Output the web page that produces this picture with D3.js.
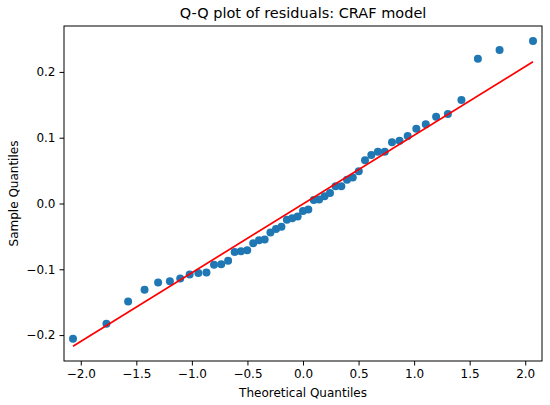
<!DOCTYPE html>
<html>
<head>
<meta charset="utf-8">
<title>Q-Q plot of residuals: CRAF model</title>
<script src="https://d3js.org/d3.v7.min.js"></script>
<style>
  body { margin: 0; background: #fff; }
  text { font-family: "DejaVu Sans", sans-serif; fill: #000; }
</style>
</head>
<body>
<div id="chart"></div>
<script>
// theoretical quantiles (x) and sample quantiles (y)
var theoretical = [
  -2.070, -1.769, -1.574, -1.426, -1.304, -1.198, -1.105, -1.020, -0.942, -0.869,
  -0.801, -0.736, -0.674, -0.615, -0.558, -0.502, -0.448, -0.396, -0.345, -0.293,
  -0.243, -0.194, -0.145, -0.097, -0.048, 0.000, 0.048, 0.097, 0.145, 0.194,
  0.243, 0.293, 0.345, 0.396, 0.448, 0.502, 0.558, 0.615, 0.674, 0.736,
  0.801, 0.869, 0.942, 1.020, 1.105, 1.198, 1.304, 1.426, 1.574, 1.769, 2.070
];
var sample = [
  -0.2055, -0.1828, -0.1489, -0.1312, -0.1201, -0.1181, -0.1140, -0.1078, -0.1056, -0.1049,
  -0.0932, -0.0922, -0.0869, -0.0737, -0.0726, -0.0710, -0.0605, -0.0558, -0.0547, -0.0439,
  -0.0388, -0.0353, -0.0246, -0.0225, -0.0196, -0.0114, -0.0091, 0.0053, 0.0059, 0.0109,
  0.0160, 0.0261, 0.0261, 0.0362, 0.0395, 0.0489, 0.0658, 0.0737, 0.0785, 0.0788,
  0.0930, 0.0954, 0.1026, 0.1138, 0.1204, 0.1319, 0.1360, 0.1573, 0.2199, 0.2333, 0.2470
];
// reference line end points
var lineX = [-2.070, 2.070];
var lineY = [-0.217, 0.2155];

var xTicks = [-2.0, -1.5, -1.0, -0.5, 0.0, 0.5, 1.0, 1.5, 2.0];
var yTicks = [-0.2, -0.1, 0.0, 0.1, 0.2];

var W = 550, H = 405;
var margin = {top: 26, right: 8, bottom: 44, left: 64};
var width = W - margin.left - margin.right,
    height = H - margin.top - margin.bottom;

var svg = d3.select("#chart").append("svg")
    .attr("width", W)
    .attr("height", H);

var g = svg.append("g")
    .attr("transform", "translate(" + margin.left + "," + margin.top + ")");

var x = d3.scaleLinear().domain([-2.151, 2.151]).range([0, width]);
var y = d3.scaleLinear().domain([-0.2394, 0.2698]).range([height, 0]);

var fmt = function(d) { return d3.format(".1f")(d).replace("-", "\u2212"); };

// x axis
var xAxis = g.append("g")
    .attr("transform", "translate(0," + height + ")")
    .call(d3.axisBottom(x).tickValues(xTicks).tickFormat(fmt).tickSize(4.5).tickPadding(4));
xAxis.select(".domain").remove();
xAxis.selectAll("text").style("font-size", "12px").style("font-family", "DejaVu Sans");
xAxis.selectAll("line").attr("stroke-width", 1);

// y axis
var yAxis = g.append("g")
    .call(d3.axisLeft(y).tickValues(yTicks).tickFormat(fmt).tickSize(4.5).tickPadding(4));
yAxis.select(".domain").remove();
yAxis.selectAll("text").style("font-size", "12px").style("font-family", "DejaVu Sans");
yAxis.selectAll("line").attr("stroke-width", 1);

// data points
g.selectAll(".dot")
    .data(theoretical)
  .enter().append("circle")
    .attr("class", "dot")
    .attr("cx", function(d) { return x(d); })
    .attr("cy", function(d, i) { return y(sample[i]); })
    .attr("r", 4)
    .attr("fill", "#1f77b4");

// fitted line
g.append("path")
    .datum(lineX.map(function(d, i) { return [d, lineY[i]]; }))
    .attr("fill", "none")
    .attr("stroke", "#ff0000")
    .attr("stroke-width", 1.7)
    .attr("d", d3.line()
        .x(function(d) { return x(d[0]); })
        .y(function(d) { return y(d[1]); }));

// frame
g.append("rect")
    .attr("width", width)
    .attr("height", height)
    .attr("fill", "none")
    .attr("stroke", "#000")
    .attr("stroke-width", 1);

// title and labels
svg.append("text")
    .attr("x", margin.left + width / 2)
    .attr("y", 18)
    .attr("text-anchor", "middle")
    .style("font-size", "14.5px")
    .text("Q-Q plot of residuals: CRAF model");

svg.append("text")
    .attr("x", margin.left + width / 2)
    .attr("y", 397)
    .attr("text-anchor", "middle")
    .style("font-size", "12px")
    .text("Theoretical Quantiles");

svg.append("text")
    .attr("transform", "translate(18," + (margin.top + height / 2) + ") rotate(-90)")
    .attr("text-anchor", "middle")
    .style("font-size", "12px")
    .text("Sample Quantiles");
</script>
</body>
</html>
